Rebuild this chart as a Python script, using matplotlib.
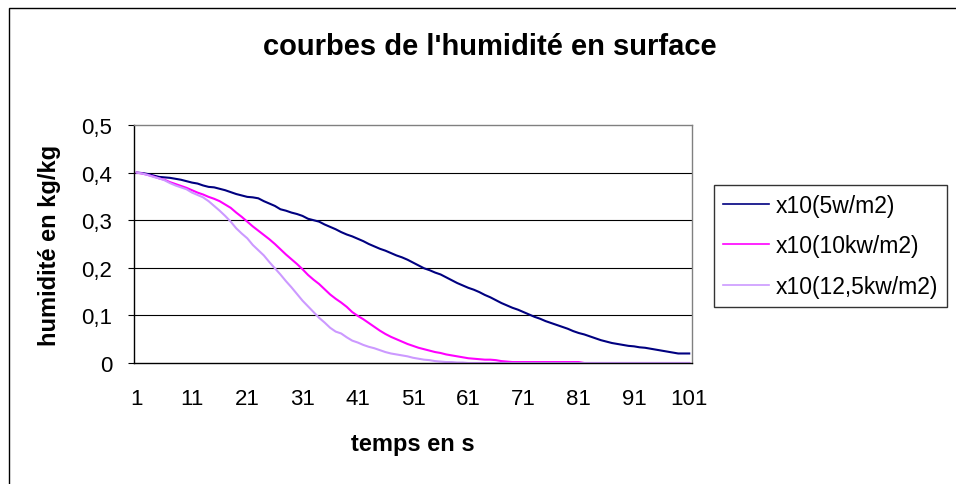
import matplotlib
matplotlib.use("Agg")
import matplotlib.pyplot as plt
from matplotlib.patches import Rectangle

# time steps (s)
temps = list(range(1, 102))
tick_values = [1, 11, 21, 31, 41, 51, 61, 71, 81, 91, 101]
y_ticks = [0.0, 0.1, 0.2, 0.3, 0.4, 0.5]
y_tick_labels = ["0", "0,1", "0,2", "0,3", "0,4", "0,5"]

labels = ["x10(5w/m2)", "x10(10kw/m2)", "x10(12,5kw/m2)"]

# surface humidity, kg/kg
h_5w = [
    0.400, 0.399, 0.397, 0.394, 0.391, 0.390, 0.389, 0.387, 0.385, 0.382,
    0.379, 0.377, 0.373, 0.370, 0.369, 0.366, 0.363, 0.359, 0.355, 0.352,
    0.349, 0.348, 0.346, 0.340, 0.335, 0.330, 0.323, 0.320, 0.316, 0.313,
    0.309, 0.303, 0.300, 0.297, 0.291, 0.286, 0.281, 0.275, 0.270, 0.266,
    0.261, 0.256, 0.250, 0.245, 0.240, 0.236, 0.231, 0.226, 0.222, 0.217,
    0.211, 0.205, 0.199, 0.195, 0.190, 0.186, 0.180, 0.174, 0.168, 0.163,
    0.158, 0.154, 0.149, 0.143, 0.138, 0.132, 0.126, 0.121, 0.116, 0.112,
    0.107, 0.102, 0.097, 0.093, 0.088, 0.084, 0.080, 0.076, 0.072, 0.067,
    0.063, 0.060, 0.056, 0.052, 0.048, 0.045, 0.042, 0.040, 0.038, 0.036,
    0.035, 0.033, 0.032, 0.030, 0.028, 0.026, 0.024, 0.022, 0.020, 0.020,
    0.020,
]
h_10kw = [
    0.400, 0.398, 0.395, 0.392, 0.388, 0.385, 0.380, 0.376, 0.372, 0.368,
    0.363, 0.358, 0.354, 0.349, 0.345, 0.340, 0.333, 0.326, 0.316, 0.307,
    0.297, 0.287, 0.278, 0.269, 0.260, 0.250, 0.239, 0.228, 0.218, 0.208,
    0.197, 0.185, 0.175, 0.166, 0.155, 0.144, 0.135, 0.127, 0.118, 0.107,
    0.099, 0.092, 0.084, 0.076, 0.068, 0.061, 0.055, 0.050, 0.045, 0.040,
    0.036, 0.032, 0.029, 0.026, 0.023, 0.021, 0.018, 0.016, 0.014, 0.012,
    0.010, 0.009, 0.008, 0.007, 0.007, 0.006, 0.004, 0.003, 0.002, 0.002,
    0.002, 0.002, 0.002, 0.002, 0.002, 0.002, 0.002, 0.002, 0.002, 0.002,
    0.002, 0.000, 0.000, 0.000, 0.000, 0.000, 0.000, 0.000, 0.000, 0.000,
    0.000, 0.000, 0.000, 0.000, 0.000, 0.000, 0.000, 0.000, 0.000, 0.000,
    0.000,
]
h_12_5kw = [
    0.400, 0.398, 0.395, 0.391, 0.388, 0.384, 0.378, 0.373, 0.369, 0.365,
    0.358, 0.353, 0.348, 0.340, 0.330, 0.320, 0.309, 0.297, 0.283, 0.272,
    0.262, 0.248, 0.237, 0.226, 0.212, 0.199, 0.186, 0.172, 0.159, 0.145,
    0.131, 0.119, 0.107, 0.095, 0.085, 0.074, 0.066, 0.062, 0.054, 0.047,
    0.043, 0.038, 0.034, 0.031, 0.027, 0.023, 0.020, 0.018, 0.016, 0.014,
    0.011, 0.009, 0.007, 0.006, 0.004, 0.003, 0.002, 0.002, 0.001, 0.001,
    0.000, 0.000, 0.000, 0.000, 0.000, 0.000, 0.000, 0.000, 0.000, 0.000,
    0.000, 0.000, 0.000, 0.000, 0.000, 0.000, 0.000, 0.000, 0.000, 0.000,
    0.000, 0.000, 0.000, 0.000, 0.000, 0.000, 0.000, 0.000, 0.000, 0.000,
    0.000, 0.000, 0.000, 0.000, 0.000, 0.000, 0.000, 0.000, 0.000, 0.000,
    0.000,
]

colors = ["#000080", "#FF00FF", "#CC99FF"]

plt.rcParams["font.family"] = ["Liberation Sans", "DejaVu Sans"]

W, H = 956, 485
fig = plt.figure(figsize=(W / 100, H / 100), dpi=100)
fig.patch.set_facecolor("white")

# outer chart frame (right and bottom edges run past the canvas)
fig.patches.append(Rectangle((9 / W, -0.2), 1.2, 1.2 - 9 / H,
                             transform=fig.transFigure, fill=False,
                             edgecolor="black", linewidth=1.0))

ax = fig.add_axes([134 / W, 1 - 364 / H, (692 - 134) / W, (364 - 126) / H])

for series, col, lab in zip([h_5w, h_10kw, h_12_5kw], colors, labels):
    ax.plot(temps, series, color=col, linewidth=1.5, label=lab,
            solid_joinstyle="round")

ax.set_xlim(0.5, 101.5)
ax.set_ylim(0, 0.5)
ax.set_yticks(y_ticks)
ax.set_yticklabels(y_tick_labels)
ax.set_xticks(tick_values)
ax.set_xticklabels([str(v) for v in tick_values])

for y in y_ticks[1:-1]:
    ax.axhline(y, color="black", linewidth=0.8, zorder=0)

ax.spines["top"].set_color("#808080")
ax.spines["right"].set_color("#808080")
ax.spines["left"].set_color("black")
ax.spines["bottom"].set_color("black")
for s in ax.spines.values():
    s.set_linewidth(1.0)

ax.tick_params(axis="y", direction="out", length=4.5, width=0.8,
               pad=11, labelsize=16)
ax.tick_params(axis="x", length=0, pad=18, labelsize=16)

ax.set_ylabel("humidité en kg/kg", fontsize=17, fontweight="bold")
ax.yaxis.label.set_va("center")
ax.yaxis.set_label_coords((50 - 134) / 558, 0.5)
ax.set_xlabel("temps en s", fontsize=17, fontweight="bold")
ax.xaxis.label.set_va("center")
ax.xaxis.set_label_coords(0.5, (364 - 445) / 238)

fig.text(490 / W, 1 - 47 / H, "courbes de l'humidité en surface",
         ha="center", va="center", fontsize=21, fontweight="bold")

leg = fig.legend(loc="upper left", bbox_to_anchor=(714 / W, 1 - 186 / H),
                 frameon=True, fancybox=False, fontsize=16.5,
                 handlelength=2.0, handletextpad=0.3, labelspacing=0.75,
                 borderpad=0.4, borderaxespad=0)
leg.get_frame().set_edgecolor("black")
leg.get_frame().set_linewidth(1.0)
for line in leg.get_lines():
    line.set_linewidth(1.2)

fig.savefig("out.png", dpi=100, facecolor="white")
